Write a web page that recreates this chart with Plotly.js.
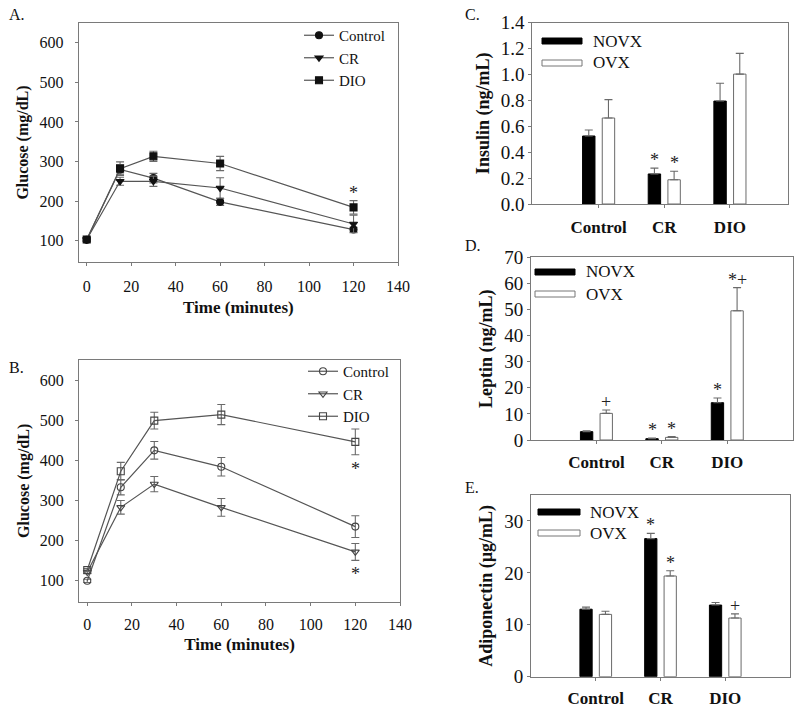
<!DOCTYPE html>
<html>
<head>
<meta charset="utf-8">
<script src="https://cdn.plot.ly/plotly-3.0.1.min.js"></script>
<style>html,body{margin:0;padding:0;background:#fff;}#chart{width:800px;height:710px;}</style>
</head>
<body>
<div id="chart"></div>
<script>
// ---------- DATA ----------
const timeMin = [0, 15, 30, 60, 120];
const seriesNames = ['Control', 'CR', 'DIO'];

// Panel A: glucose (mg/dL), NOVX
const gluA_Control = [102, 280, 258, 198, 128];
const gluA_CR      = [103, 250, 250, 233, 142];
const gluA_DIO     = [103, 282, 313, 295, 184];
const errA_Control = [4, 12, 12, 9, 6];
const errA_CR      = [4, 10, 13, 26, 22];
const errA_DIO     = [4, 17, 13, 18, 17];
const sigA_DIO     = ['', '', '', '', '*'];

// Panel B: glucose (mg/dL), OVX
const gluB_Control = [100, 333, 425, 384, 235];
const gluB_CR      = [122, 283, 341, 283, 172];
const gluB_DIO     = [127, 373, 499, 514, 446];
const errB_Control = [4, 19, 22, 23, 27];
const errB_CR      = [4, 17, 19, 22, 21];
const errB_DIO     = [4, 22, 21, 25, 32];
const sigB_CR      = ['', '', '', '', '*'];
const sigB_DIO     = ['', '', '', '', '*'];

// Bar panels
const groups = ['Control', 'CR', 'DIO'];
const barNames = ['NOVX', 'OVX'];

const insulin_NOVX = [0.525, 0.232, 0.795];
const insulin_OVX  = [0.664, 0.187, 1.003];
const insulinErr_NOVX = [0.047, 0.045, 0.137];
const insulinErr_OVX  = [0.142, 0.066, 0.16];
const insulinSig_NOVX = ['', '*', ''];
const insulinSig_OVX  = ['', '*', ''];

const leptin_NOVX = [3.2, 0.5, 14.3];
const leptin_OVX  = [10.2, 1.0, 49.5];
const leptinErr_NOVX = [0.3, 0.2, 1.8];
const leptinErr_OVX  = [1.3, 0.3, 8.9];
const leptinSig_NOVX = ['', '*', '*'];
const leptinSig_OVX  = ['+', '*', '*+'];

const adipo_NOVX = [13.0, 26.6, 13.8];
const adipo_OVX  = [12.0, 19.4, 11.3];
const adipoErr_NOVX = [0.4, 1.0, 0.5];
const adipoErr_OVX  = [0.6, 1.0, 0.8];
const adipoSig_NOVX = ['', '*', ''];
const adipoSig_OVX  = ['', '*', '+'];

// ---------- STYLE ----------
const FONT = 'Liberation Serif, Times New Roman, serif';
const LINE = '#555555';
const AX = '#7a7a7a';
const ERR = '#6a6a6a';

function px(x){ return x/800; }
function py(y){ return 1 - y/710; }

const traces = [];
const annotations = [];
const shapes = [];

// line panels
function linePanel(xa, ya, legendId, data, open){
  const symbols = open ? ['circle-open','triangle-down-open','square-open'] : ['circle','triangle-down','square'];
  data.forEach((d, i) => {
    traces.push({
      type: 'scatter', mode: 'lines+markers', name: seriesNames[i],
      x: timeMin, y: d.y, xaxis: xa, yaxis: ya, legend: legendId,
      line: {color: LINE, width: 1.2},
      marker: {symbol: symbols[i], size: 7, color: open ? '#444' : '#111',
               line: {color: open ? '#444' : '#111', width: 1.1}},
      error_y: {type: 'data', array: d.e, visible: true, color: ERR, thickness: 1.1, width: 4}
    });
    if (d.sig) {
      d.sig.forEach((s, k) => {
        if (!s) return;
        const up = d.sigPos === 'above';
        annotations.push({
          xref: xa, yref: ya, x: timeMin[k], y: up ? d.y[k] + d.e[k] : d.y[k] - d.e[k],
          text: s, showarrow: false, yanchor: up ? 'bottom' : 'top',
          yshift: up ? -4 : -2, font: {family: FONT, size: 18, color: '#222'}
        });
      });
    }
  });
}

linePanel('x', 'y', 'legend', [
  {y: gluA_Control, e: errA_Control},
  {y: gluA_CR, e: errA_CR},
  {y: gluA_DIO, e: errA_DIO, sig: sigA_DIO, sigPos: 'above'}
], false);
linePanel('x2', 'y2', 'legend2', [
  {y: gluB_Control, e: errB_Control},
  {y: gluB_CR, e: errB_CR, sig: sigB_CR, sigPos: 'below'},
  {y: gluB_DIO, e: errB_DIO, sig: sigB_DIO, sigPos: 'below'}
], true);

// bar panels
const SLOT = 0.3;
function barPanel(xa, ya, vals, errs, sigs, legendPos){
  vals.forEach((v, j) => {
    traces.push({
      type: 'bar', name: barNames[j], x: groups, y: v, xaxis: xa, yaxis: ya,
      showlegend: false,
      marker: {color: j === 0 ? '#000000' : '#ffffff', line: {color: j === 0 ? '#000' : '#6a6a6a', width: 1}},
      error_y: {type: 'data', symmetric: false, array: errs[j], arrayminus: errs[j].map(() => 0),
                color: ERR, thickness: 1.1, width: 4}
    });
    sigs[j].forEach((s, k) => {
      if (!s) return;
      annotations.push({
        xref: xa, yref: ya, x: k + (j === 0 ? -SLOT/2 : SLOT/2), y: v[k] + errs[j][k],
        text: s, showarrow: false, yanchor: 'bottom', yshift: -4,
        font: {family: FONT, size: 18, color: '#222'}
      });
    });
  });
  // legend (swatches + labels)
  const L = legendPos;
  barNames.forEach((n, j) => {
    const yc = L.y[j];
    shapes.push({type: 'rect', xref: 'paper', yref: 'paper',
      x0: px(L.x0), x1: px(L.x1), y0: py(yc + 3), y1: py(yc - 3),
      fillcolor: j === 0 ? '#000' : '#fff', line: {color: j === 0 ? '#000' : '#777', width: 1}});
    annotations.push({xref: 'paper', yref: 'paper', x: px(L.tx), y: py(yc), xanchor: 'left', yanchor: 'middle',
      text: n, showarrow: false, font: {family: FONT, size: 17, color: '#111'}});
  });
}

barPanel('x3', 'y3', [insulin_NOVX, insulin_OVX], [insulinErr_NOVX, insulinErr_OVX],
  [insulinSig_NOVX, insulinSig_OVX], {x0: 542, x1: 582, tx: 591, y: [41, 63]});
barPanel('x4', 'y4', [leptin_NOVX, leptin_OVX], [leptinErr_NOVX, leptinErr_OVX],
  [leptinSig_NOVX, leptinSig_OVX], {x0: 535, x1: 575, tx: 584, y: [272, 294]});
barPanel('x5', 'y5', [adipo_NOVX, adipo_OVX], [adipoErr_NOVX, adipoErr_OVX],
  [adipoSig_NOVX, adipoSig_OVX], {x0: 538, x1: 580, tx: 588, y: [512, 533]});

// panel letters
[['A.', 7, 15], ['B.', 7, 367], ['C.', 463, 15], ['D.', 463, 245], ['E.', 463, 487]].forEach(p => {
  annotations.push({xref: 'paper', yref: 'paper', x: px(p[1]), y: py(p[2]), xanchor: 'left', yanchor: 'middle',
    text: p[0], showarrow: false, font: {family: FONT, size: 16, color: '#111'}});
});

// ---------- AXES ----------
function baseAxis(extra){
  return Object.assign({
    showline: true, mirror: true, linecolor: AX, linewidth: 1,
    showgrid: false, zeroline: false, ticks: 'outside', ticklen: 3, tickcolor: AX,
    tickfont: {family: FONT, size: 16, color: '#111'}
  }, extra);
}
const titleFont = (s) => ({family: FONT, size: s, color: '#111', weight: 'bold'});
const catFont = {family: FONT, size: 17, color: '#111', weight: 'bold'};

const layout = {
  width: 800, height: 710, margin: {l: 0, r: 0, t: 0, b: 0},
  paper_bgcolor: '#fff', plot_bgcolor: '#fff',
  barmode: 'group', bargap: 1 - 2*SLOT, bargroupgap: 0.37,
  font: {family: FONT},
  xaxis: baseAxis({domain: [px(78.7), px(398)], anchor: 'y', range: [-3.6, 140], dtick: 20, tick0: 0,
    ticklabelstandoff: 7, title: {text: 'Time (minutes)', font: titleFont(17), standoff: 6}}),
  yaxis: baseAxis({domain: [py(262), py(23)], anchor: 'x', range: [46, 650], dtick: 100, tick0: 0,
    ticklabelstandoff: 8, title: {text: 'Glucose (mg/dL)', font: titleFont(16), standoff: 6}}),
  xaxis2: baseAxis({domain: [px(79), px(400)], anchor: 'y2', range: [-3.7, 140], dtick: 20, tick0: 0,
    ticklabelstandoff: 5, title: {text: 'Time (minutes)', font: titleFont(17), standoff: 6}}),
  yaxis2: baseAxis({domain: [py(601.7), py(360)], anchor: 'x2', range: [48, 650], dtick: 100, tick0: 0,
    ticklabelstandoff: 8, title: {text: 'Glucose (mg/dL)', font: titleFont(16), standoff: 6}}),
  xaxis3: baseAxis({domain: [px(532.3), px(787.7)], anchor: 'y3', type: 'category', range: [-1.01, 2.88],
    ticklabelstandoff: 5, tickfont: catFont}),
  yaxis3: baseAxis({domain: [py(204), py(22.7)], anchor: 'x3', range: [0, 1.4], dtick: 0.2, tickformat: '.1f',
    tickfont: {family: FONT, size: 19, color: '#111'},
    title: {text: 'Insulin (ng/mL)', font: titleFont(18), standoff: 6}}),
  xaxis4: baseAxis({domain: [px(531), px(792.7)], anchor: 'y4', type: 'category', range: [-1.0, 3.0],
    ticklabelstandoff: 4, tickfont: catFont}),
  yaxis4: baseAxis({domain: [py(440), py(257.3)], anchor: 'x4', range: [0, 70], dtick: 10,
    tickfont: {family: FONT, size: 19, color: '#111'},
    title: {text: 'Leptin (ng/mL)', font: titleFont(18), standoff: 6}}),
  xaxis5: baseAxis({domain: [px(531), px(790)], anchor: 'y5', type: 'category', range: [-1.0, 3.0],
    ticklabelstandoff: 3, tickfont: catFont}),
  yaxis5: baseAxis({domain: [py(676.7), py(495)], anchor: 'x5', range: [0, 35], dtick: 10,
    tickfont: {family: FONT, size: 19, color: '#111'},
    title: {text: 'Adiponectin (µg/mL)', font: titleFont(18), standoff: 6}}),
  legend: {x: px(299), y: py(19), xanchor: 'left', yanchor: 'top', bgcolor: 'rgba(0,0,0,0)',
    font: {family: FONT, size: 15, color: '#111'}, tracegroupgap: 0, itemwidth: 30},
  legend2: {x: px(303), y: py(355), xanchor: 'left', yanchor: 'top', bgcolor: 'rgba(0,0,0,0)',
    font: {family: FONT, size: 15, color: '#111'}, tracegroupgap: 0, itemwidth: 30},
  annotations: annotations,
  shapes: shapes
};

Plotly.newPlot('chart', traces, layout, {staticPlot: true, displayModeBar: false});
</script>
</body>
</html>
